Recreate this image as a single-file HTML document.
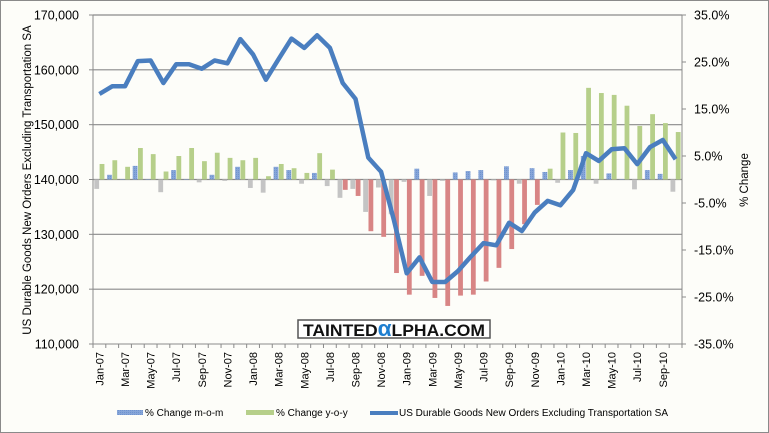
<!DOCTYPE html>
<html><head><meta charset="utf-8"><style>
html,body{margin:0;padding:0;background:#fff}
svg{display:block;font-family:"Liberation Sans",sans-serif}
</style></head><body>
<svg id="c" width="769" height="433" viewBox="0 0 769 433" xmlns="http://www.w3.org/2000/svg">
<defs>
<pattern id="bp" width="2" height="2" patternUnits="userSpaceOnUse"><rect width="2" height="2" fill="#86a5d8"/><rect width="1" height="1" fill="#6f93cf"/></pattern>
</defs>
<rect x="0.5" y="0.5" width="768" height="432" fill="#fdfdf9" stroke="#8a8a8a"/>
<g id="grid"></g>
<g id="bars"></g>
<g id="axes"></g>
<polyline id="line" fill="none" stroke="#4a7ebf" stroke-width="4.5" stroke-linejoin="round" points=""/>
<rect x="298" y="320" width="192" height="18" fill="#fff" stroke="#555" stroke-width="1.5"/>
<text x="303" y="336" font-size="17" font-weight="bold" fill="#111" textLength="182" lengthAdjust="spacingAndGlyphs">TAINTED<tspan fill="#1f7fd0" font-size="22">α</tspan>LPHA.COM</text>
<text transform="translate(31,180) rotate(-90)" text-anchor="middle" font-size="11.5" fill="#000">US Durable Goods New Orders Excluding Transportation SA</text>
<text transform="translate(748,180) rotate(-90)" text-anchor="middle" font-size="11.5" fill="#000">% Change</text>
<rect x="117" y="410" width="26" height="5" fill="url(#bp)"/>
<text x="145" y="416" font-size="10" fill="#000">% Change m-o-m</text>
<rect x="246" y="410" width="28" height="5" fill="#b6cf8a"/>
<text x="276" y="416" font-size="10" fill="#000">% Change y-o-y</text>
<rect x="370" y="411" width="28" height="4" fill="#4a7ebf"/>
<text x="399" y="416" font-size="10" fill="#000">US Durable Goods New Orders Excluding Transportation SA</text>
</svg>
<script>
var NS="http://www.w3.org/2000/svg";
function el(p,t,a,txt){var e=document.createElementNS(NS,t);for(var k in a)e.setAttribute(k,a[k]);if(txt!=null)e.textContent=txt;document.getElementById(p).appendChild(e);return e;}
var L=93,R=682,T=15,B=344,n=46,cw=(R-L)/n;
function yv(v){return T+(170-v)*(B-T)/60;}
function yp(p){return T+(35-p)*(B-T)/70;}
for(var v=110;v<=170;v+=10){var y=yv(v);
 if(v>110&&v<170||v==170) el("grid","line",{x1:L,x2:R,y1:y,y2:y,stroke:"#8a8a8a","stroke-width":1.2});
 el("axes","line",{x1:L-4,x2:L,y1:y,y2:y,stroke:"#8a8a8a"});
 el("axes","text",{x:79,y:y+4.5,"text-anchor":"end","font-size":12.5,fill:"#000"},(v)+",000");}
for(var p=-35;p<=35;p+=10){var y=yp(p);
 el("axes","line",{x1:R,x2:R+4,y1:y,y2:y,stroke:"#8a8a8a"});
 el("axes","text",{x:694,y:y+4.5,"font-size":12.5,fill:"#000"},p.toFixed(1)+"%");}
el("axes","line",{x1:L,x2:L,y1:T,y2:B,stroke:"#8a8a8a"});
el("axes","line",{x1:R,x2:R,y1:T,y2:B,stroke:"#8a8a8a"});
el("axes","line",{x1:L,x2:R,y1:B,y2:B,stroke:"#8a8a8a"});
var mon=["Jan","Feb","Mar","Apr","May","Jun","Jul","Aug","Sep","Oct","Nov","Dec"];
for(var i=0;i<=n;i++){var x=L+cw*i;el("axes","line",{x1:x,x2:x,y1:B,y2:B+4,stroke:"#8a8a8a"});}
for(var i=0;i<n;i+=2){var x=L+cw*i+cw/2;var lab=mon[i%12]+"-"+(i<12?"07":i<24?"08":i<36?"09":"10");
 el("axes","text",{transform:"translate("+(x+4)+",352) rotate(-90)","text-anchor":"end","font-size":11,fill:"#000"},lab);}
var mom=[-2,1,0.1,2.9,0.1,-2.7,2,0.1,-0.6,1,-0.3,2.7,-1.8,-2.8,2.7,2,-0.9,1.4,-1.4,-3.9,-2,-6.9,-1.7,-7.4,-0.5,2.3,-3.5,-0.3,1.5,1.8,2,-0.2,2.8,-0.9,2.4,1.6,-0.7,2,5,-0.9,1.3,0.1,-2.1,2,1.2,-2.6];
var yoy=[3.3,4.1,2.7,6.7,5.4,1.7,5,6.7,3.9,5.7,4.6,4.1,4.6,0.7,3.3,2.4,1.4,5.6,2.1,-2.2,-3.5,-11,-12.2,-19.9,-24.5,-20.5,-25.2,-26.9,-24.7,-24.5,-21.7,-18.8,-14.8,-9.5,-5.4,2.3,10,9.9,19.5,18.4,18,15.7,11.4,13.9,12,10.1];
var z=yp(0);
for(var i=0;i<n;i++){var s=L+cw*i;
 var a=mom[i],ya=yp(a);el("bars","rect",{x:s+1.3,y:Math.min(ya,z),width:4.8,height:Math.abs(ya-z),fill:a>=0?"url(#bp)":"#c4c4c4"});
 var b=yoy[i],yb=yp(b);el("bars","rect",{x:s+6.6,y:Math.min(yb,z),width:4.8,height:Math.abs(yb-z),fill:b>=0?"#b6cf8a":"#d88585"});}
var lv=[155.6,157,157,161.6,161.7,157.6,161,161,160.2,161.7,161.2,165.6,162.8,158.2,162,165.7,164,166.3,164,157.6,154.7,144,141.4,132.6,122.9,125.8,121.3,121.3,123.3,125.9,128.4,128,132.1,130.6,134,136.1,135.3,138.1,144.8,143.4,145.5,145.7,142.8,145.9,147.2,143.7];
var pts=lv.map(function(v,i){return (L+cw*i+cw/2).toFixed(1)+","+yv(v).toFixed(1);}).join(" ");
document.getElementById("line").setAttribute("points",pts);
</script>
</body></html>
